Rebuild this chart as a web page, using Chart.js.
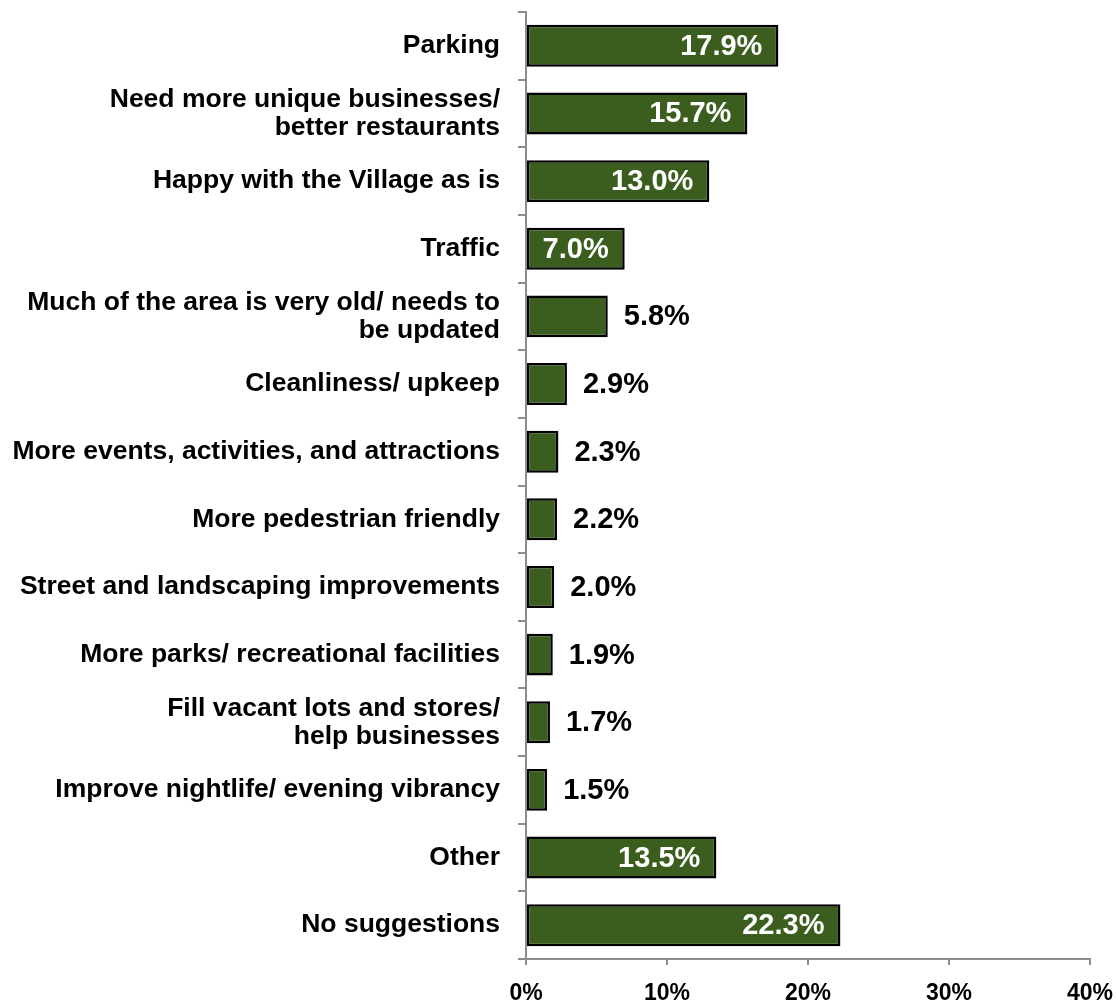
<!DOCTYPE html>
<html>
<head>
<meta charset="utf-8">
<script src="https://cdn.jsdelivr.net/npm/chart.js@4"></script>
<style>
  html, body { margin: 0; padding: 0; background: #fff; }
  #wrap { width: 1118px; height: 1006px; }
</style>
</head>
<body>
<div id="wrap"><canvas id="chart" width="1118" height="1006"></canvas></div>
<script>
const categories = [
  'Parking',
  ['Need more unique businesses/', 'better restaurants'],
  'Happy with the Village as is',
  'Traffic',
  ['Much of the area is very old/ needs to', 'be updated'],
  'Cleanliness/ upkeep',
  'More events, activities, and attractions',
  'More pedestrian friendly',
  'Street and landscaping improvements',
  'More parks/ recreational facilities',
  ['Fill vacant lots and stores/', 'help businesses'],
  'Improve nightlife/ evening vibrancy',
  'Other',
  'No suggestions'
];
const shares = [17.9, 15.7, 13.0, 7.0, 5.8, 2.9, 2.3, 2.2, 2.0, 1.9, 1.7, 1.5, 13.5, 22.3];
const xTicks = [0, 10, 20, 30, 40];

const FONT = "'Liberation Sans', Arial, sans-serif";
const AXIS = '#8c8c8c';
const insideMin = 7; // bars this long get their label inside

// value labels: white inside long bars, black just past short ones
const valueLabels = {
  id: 'valueLabels',
  afterDatasetsDraw(chart) {
    const ctx = chart.ctx;
    const meta = chart.getDatasetMeta(0);
    ctx.save();
    ctx.font = 'bold 29px ' + FONT;
    ctx.textBaseline = 'middle';
    meta.data.forEach((bar, i) => {
      const v = shares[i];
      const txt = v.toFixed(1) + '%';
      if (v >= insideMin) {
        ctx.fillStyle = '#ffffff';
        ctx.textAlign = 'right';
        ctx.fillText(txt, bar.x - 16, bar.y + 1);
      } else {
        ctx.fillStyle = '#000000';
        ctx.textAlign = 'left';
        ctx.fillText(txt, bar.x + 16, bar.y + 1);
      }
    });
    ctx.restore();
  }
};

new Chart(document.getElementById('chart'), {
  type: 'bar',
  data: {
    labels: categories,
    datasets: [{
      data: shares,
      backgroundColor: '#3b5e1f',
      borderColor: '#000000',
      borderWidth: 2.5,
      borderSkipped: false,
      categoryPercentage: 1,
      barPercentage: 0.62
    }]
  },
  options: {
    indexAxis: 'y',
    responsive: false,
    animation: false,
    devicePixelRatio: 1,
    layout: { padding: { top: 12, right: 28, bottom: 0, left: 0 } },
    plugins: { legend: { display: false }, tooltip: { enabled: false } },
    scales: {
      x: {
        min: 0,
        max: 40,
        afterBuildTicks(scale) { scale.ticks = xTicks.map(v => ({ value: v })); },
        afterFit(scale) { scale.height = 47; scale.paddingLeft = 0; scale.paddingRight = 0; },
        border: { color: AXIS, width: 2 },
        grid: { drawOnChartArea: false, drawTicks: true, tickLength: 6, color: AXIS, lineWidth: 2 },
        ticks: {
          padding: 19,
          color: '#000',
          font: { family: FONT, size: 23, weight: 'bold', lineHeight: 0.8 },
          maxRotation: 0,
          callback: v => v + '%'
        }
      },
      y: {
        afterFit(scale) { scale.width = 526; scale.paddingTop = 0; scale.paddingBottom = 0; },
        border: { color: AXIS, width: 2 },
        grid: { drawOnChartArea: false, drawTicks: true, tickLength: 8, color: AXIS, lineWidth: 2, offset: true },
        ticks: {
          padding: 18,
          color: '#000',
          autoSkip: false,
          font: { family: FONT, size: 26.5, weight: 'bold', lineHeight: 1.06 }
        }
      }
    }
  },
  plugins: [valueLabels]
});
</script>
</body>
</html>
